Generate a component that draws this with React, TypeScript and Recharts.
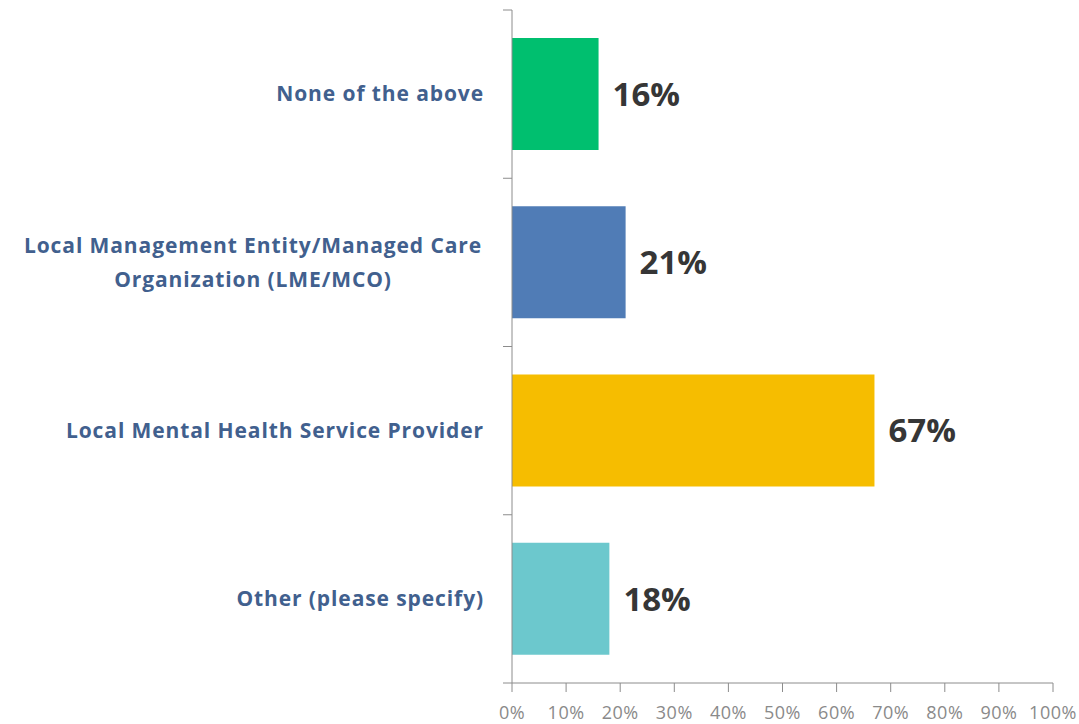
import { Bar, BarChart, Cell, LabelList, XAxis, YAxis } from 'recharts';

const categories = [
  'None of the above',
  'Local Management Entity/Managed Care Organization (LME/MCO)',
  'Local Mental Health Service Provider',
  'Other (please specify)',
];
const shares = [16, 21, 67, 18];
const barColors = ['#00BF6F', '#507CB6', '#F6BD00', '#6CC8CD'];
const xTicks = [0, 10, 20, 30, 40, 50, 60, 70, 80, 90, 100];
const wrappedLines: Record<string, string[]> = {
  'Local Management Entity/Managed Care Organization (LME/MCO)': [
    'Local Management Entity/Managed Care',
    'Organization (LME/MCO)',
  ],
};

const data = categories.map((name, i) => ({
  name,
  value: shares[i],
  color: barColors[i],
}));

const AXIS = '#8c8c8c';
const LABEL_BLUE = '#41608E';
const FONT = "'Open Sans', Lato, sans-serif";
const TICK_LEN = 9;

// Category label plus Excel-style tick marks on the band boundaries
function CategoryTick({ x, y, payload, index, visibleTicksCount }: any) {
  const lines = wrappedLines[payload.value] ?? [payload.value];
  const lineGap = 34;
  const start = -((lines.length - 1) * lineGap) / 2;
  const wrapped = lines.length > 1;
  const half = payload.offset ?? 0;
  const axisX = x + 8;
  const isLast = index === visibleTicksCount - 1;
  return (
    <g>
      <line x1={axisX - TICK_LEN} x2={axisX} y1={y - half} y2={y - half} stroke={AXIS} />
      {isLast && (
        <line x1={axisX - TICK_LEN} x2={axisX} y1={y + half} y2={y + half} stroke={AXIS} />
      )}
      <text fill={LABEL_BLUE} fontFamily={FONT} fontWeight={700} fontSize={21} letterSpacing={0.9}>
        {lines.map((line, i) => (
          <tspan
            key={line}
            x={wrapped ? x - 251 : x - 20}
            y={y + start + i * lineGap}
            dy="0.35em"
            textAnchor={wrapped ? 'middle' : 'end'}
          >
            {line}
          </tspan>
        ))}
      </text>
    </g>
  );
}

export default function App() {
  return (
    <div style={{ position: 'absolute', left: 0, top: 0, background: '#fff' }}>
      <BarChart
        width={1079}
        height={724}
        layout="vertical"
        data={data}
        margin={{ top: 10, right: 26, bottom: 0, left: 0 }}
        barCategoryGap="16.7%"
      >
        <XAxis
          type="number"
          domain={[0, 100]}
          ticks={xTicks}
          tickFormatter={(v) => `${v}%`}
          stroke={AXIS}
          tickSize={9}
          tickMargin={14}
          height={41}
          interval={0}
          tick={{ fill: '#8a8a8a', fontSize: 18, fontFamily: FONT, letterSpacing: 0.5 }}
        />
        <YAxis
          type="category"
          dataKey="name"
          width={512}
          stroke={AXIS}
          tickLine={false}
          tick={<CategoryTick />}
          interval={0}
        />
        <Bar dataKey="value" isAnimationActive={false}>
          {data.map((d) => (
            <Cell key={d.name} fill={d.color} />
          ))}
          <LabelList
            dataKey="value"
            position="right"
            offset={14}
            formatter={(v: any) => `${v}%`}
            fill="#363636"
            fontSize={33}
            fontWeight={700}
            fontFamily={FONT}
          />
        </Bar>
      </BarChart>
    </div>
  );
}
